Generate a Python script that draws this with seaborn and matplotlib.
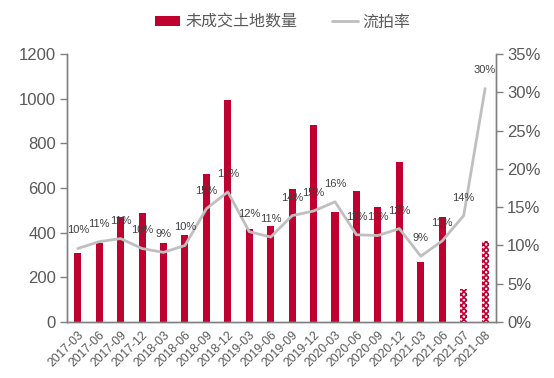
import numpy as np
import pandas as pd
import matplotlib
matplotlib.use("Agg")
import matplotlib.pyplot as plt
import seaborn as sns
from matplotlib.patches import Patch
from matplotlib.lines import Line2D
from matplotlib.ticker import FuncFormatter, MultipleLocator

periods = ["2017-03", "2017-06", "2017-09", "2017-12", "2018-03", "2018-06",
           "2018-09", "2018-12", "2019-03", "2019-06", "2019-09", "2019-12",
           "2020-03", "2020-06", "2020-09", "2020-12", "2021-03", "2021-06",
           "2021-07", "2021-08"]
unsold = [310, 355, 470, 488, 355, 390, 663, 995, 418, 430, 596, 882,
          492, 587, 515, 717, 269, 470, 148, 362]
rate = [0.096, 0.105, 0.109, 0.096, 0.091, 0.100, 0.148, 0.170, 0.118, 0.111,
        0.139, 0.145, 0.157, 0.114, 0.113, 0.122, 0.086, 0.106, 0.139, 0.305]
rate_labels = ["10%", "11%", "11%", "10%", "9%", "10%", "15%", "17%", "12%", "11%",
               "14%", "15%", "16%", "11%", "11%", "12%", "9%", "11%", "14%", "30%"]
bar_name = "未成交土地数量"
line_name = "流拍率"

RED = "#C0002F"
GREY_LINE = "#BFBFBF"
AX_GREY = "#808080"
TXT = "#595959"

sns.set_style("white")
plt.rcParams["font.family"] = ["Liberation Sans", "Noto Sans CJK SC", "DejaVu Sans"]
plt.rcParams["hatch.linewidth"] = 1.2

df = pd.DataFrame({"period": periods, "unsold": unsold, "rate": rate})

fig = plt.figure(figsize=(5.54, 3.78), dpi=100)
ax = fig.add_axes([0.121, 0.148, 0.774, 0.709])

sns.barplot(data=df, x="period", y="unsold", color=RED, width=0.33,
            saturation=1, ax=ax)
for i, p in enumerate(ax.patches):
    p.set_linewidth(0)
    if i >= len(periods) - 2:
        p.set_facecolor("white")
        p.set_edgecolor(RED)
        p.set_hatch("xxxxxx")

ax.set_xlim(-0.5, len(periods) - 0.5)
ax.set_ylim(0, 1200)
ax.yaxis.set_major_locator(MultipleLocator(200))
ax.set_xlabel("")
ax.set_ylabel("")

ax2 = ax.twinx()
sns.lineplot(x=np.arange(len(periods)), y=df["rate"], color=GREY_LINE,
             linewidth=2, ax=ax2)
ax2.set_ylim(0, 0.35)
ax2.yaxis.set_major_locator(MultipleLocator(0.05))
ax2.yaxis.set_major_formatter(FuncFormatter(lambda v, _: f"{v*100:.0f}%"))
ax2.set_ylabel("")
ax2.set_xlim(-0.5, len(periods) - 0.5)

for i, (v, lab) in enumerate(zip(rate, rate_labels)):
    ax2.annotate(lab, (i, v), xytext=(0, 13), textcoords="offset points",
                 ha="center", va="center", fontsize=8, color="#404040")

# x ticks at boundaries, labels at centres
ax.set_xticks(np.arange(len(periods)))
ax.set_xticklabels(periods, rotation=45, ha="right", rotation_mode="anchor",
                   fontsize=8.8, color=TXT)
for lbl in ax.get_xticklabels():
    lbl.set_x(lbl.get_position()[0])
ax.set_xticks(np.arange(len(periods) + 1) - 0.5, minor=True)
ax.tick_params(axis="x", which="major", length=0, pad=5)
ax.tick_params(axis="x", which="minor", length=4, color=AX_GREY, width=1,
               direction="out")
ax.tick_params(axis="y", length=5, color=AX_GREY, width=1, direction="out",
               labelsize=12, labelcolor=TXT, pad=3, left=True)
ax2.tick_params(axis="y", length=5, color=AX_GREY, width=1, direction="out",
                labelsize=12, labelcolor=TXT, pad=3, right=True)

for a in (ax, ax2):
    a.spines["top"].set_visible(False)
    for s in ("left", "right", "bottom"):
        a.spines[s].set_color(AX_GREY)
        a.spines[s].set_linewidth(1)

handles = [Patch(facecolor=RED, edgecolor="none"),
           Line2D([0], [0], color=GREY_LINE, linewidth=2)]
fig.legend(handles, [bar_name, line_name], loc="center",
           bbox_to_anchor=(0.51, 0.942), ncol=2, frameon=False,
           prop={"family": ["Noto Sans CJK SC", "DejaVu Sans"], "size": 11.5},
           labelcolor=TXT, handlelength=1.6, handleheight=0.55,
           handletextpad=0.3, columnspacing=2.2)

fig.savefig("out.png", dpi=100)
